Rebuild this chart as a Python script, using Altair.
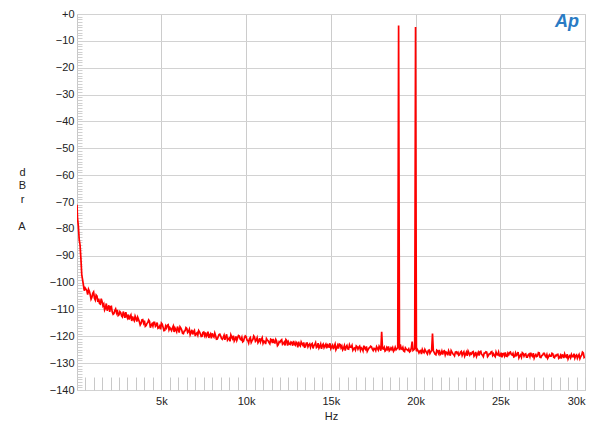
import altair as alt
import pandas as pd

# ---- data ----
start_freqs = [20, 50, 100, 150, 200, 250, 300, 350, 400, 450, 500]
start_levels = [-71, -76, -79, -84, -86, -91, -97, -99, -101, -103, -102]

# levels every 100 Hz from 600 Hz to 30 kHz (rows of 1 kHz)
levels = [
    -103, -102.5, -104.5, -105.5, -103.5, -106.5, -105, -106, -108, -107,
    -108, -109.5, -110.5, -108.5, -109, -111, -111.5, -109.8, -110.2, -112,
    -111.2, -112.8, -111.8, -111, -113.2, -113.8, -112.1, -112.6, -114.2, -113.3,
    -112.9, -114.6, -115.2, -113.8, -114.2, -116, -114.9, -114.4, -115.8, -116.2,
    -114.8, -115.9, -117, -116.2, -115.1, -116.6, -117.8, -116.9, -115.7, -116.8,
    -117.9, -116.2, -116.9, -118.3, -117.4, -116.5, -117.7, -119, -117.9, -117.1,
    -118.2, -119.4, -117.6, -118.3, -119.9, -118.7, -117.9, -119.1, -120, -118.4,
    -118.6, -119.5, -120.6, -119.1, -118.9, -120.3, -119.8, -121, -119.4, -119.9,
    -121.1, -119.6, -120.2, -121.4, -120.7, -119.5, -120.9, -121.8, -120.1, -120.6,
    -119.9, -121.3, -122.1, -120.6, -120.2, -121.6, -120.9, -122.3, -121.2, -120.4,
    -121.5, -122.4, -120.7, -121.2, -122.6, -121.9, -120.9, -121.7, -122.8, -121.3,
    -121, -122.5, -121.8, -123.1, -122.2, -121.3, -122.7, -123.4, -121.6, -122.1,
    -123, -122.4, -121.7, -123.3, -122.6, -122, -123.6, -122.8, -122.3, -123.9,
    -122.5, -123.2, -124.1, -122.7, -123.5, -122.4, -123.9, -124.4, -122.9, -123.4,
    -124.2, -123, -122.8, -124, -124.6, -123.3, -123.7, -125, -123.4, -122.9,
    -124.3, -125, -123.5, -123.9, -124.7, -123.2, -124.1, -125.2, -124.4, -123.6,
    -124.8, -123.7, -124.3, -125.4, -124.5, -123.8, -125, -124.2, -123.9, -125.3,
    -124.6, -123.9, -125.1, -124.3, -118.3, -124.7, -125.5, -124.2, -123.8, -125,
    -124.9, -125.6, -124.1, -124.6, -4.3, -123, -124.8, -125.5, -124.3, -125,
    -124.7, -125.5, -122, -125, -4.8, -124.8, -126.2, -125.3, -124.9, -126.1,
    -125.5, -126.6, -125.1, -125.8, -119, -126, -126.9, -125.5, -125.1, -126.4,
    -126.8, -125.4, -125.9, -127.1, -126.2, -125.3, -126.5, -127.3, -125.8, -126,
    -126.9, -125.6, -126.3, -127.4, -125.9, -125.5, -127, -126.6, -125.7, -126.9,
    -127.5, -126, -125.8, -126.8, -127.6, -126.3, -125.9, -127.2, -126.6, -125.7,
    -126.5, -127.6, -126.8, -125.9, -127.3, -127.8, -126.4, -126, -127.5, -126.9,
    -125.9, -127, -127.7, -126.2, -126.8, -128, -126.9, -126.1, -127.4, -126.5,
    -127.8, -126.6, -126.1, -127.5, -128.1, -126.8, -127.3, -126.2, -127.9, -127,
    -126.4, -127.7, -128.2, -126.9, -127.4, -126.5, -128, -127.3, -126.7, -127.9,
    -128.3, -127, -126.6, -127.8, -128.4, -127.2, -126.8, -127.6, -128.1, -126.9,
    -127.4, -128.3, -127.1, -126.2, -127.6,
]
grid_freqs = list(range(600, 30001, 100))

# in-between bins, 650 Hz to 29.95 kHz
levels_mid = [
    -104.5, -103.2, -106.2, -104, -105.8, -104.6, -107.2, -107.8, -106, -108.6,
    -110.2, -107.8, -109.4, -110.9, -108.9, -111.8, -110.4, -111.2, -112.3, -110.8,
    -112.4, -110.8, -113.1, -112.5, -111.9, -112.7, -114.3, -113.6, -112.5, -114.5,
    -113.7, -115.8, -113.9, -115.1, -116.3, -115.2, -113.9, -116.8, -115.3, -114.8,
    -116.3, -114.9, -116.8, -117.4, -115.5, -117.9, -116.2, -115.9, -117.6, -117.3,
    -116.9, -118.4, -117.6, -116.4, -118.6, -117, -118.9, -118.1, -116.8, -118.6,
    -117.4, -118.6, -119.3, -117.8, -119, -119.6, -118.4, -120.1, -118.6, -119.7,
    -120.1, -118.3, -119.6, -120.8, -119.8, -118.8, -121.1, -120.2, -119.2, -120.8,
    -120.4, -121.3, -119.3, -120.9, -121.9, -120.3, -119.8, -121.2, -121.5, -119.7,
    -121, -120.4, -121.8, -119.9, -121.4, -122.5, -120.5, -121.6, -119.9, -121.9,
    -120.6, -121.8, -122.1, -120.5, -121.8, -122.9, -121.4, -122.3, -121.1, -122.5,
    -122.3, -121.2, -123.5, -122, -121.6, -123, -122.2, -121.2, -123.5, -122.8,
    -122.1, -123.5, -122.9, -122.2, -124.1, -123.2, -122.1, -123.3, -124, -122.6,
    -123.9, -122.8, -123, -124.5, -123.1, -124.2, -122.6, -123.8, -124.7, -122.9,
    -123.5, -124.5, -123.9, -122.6, -123.9, -124.8, -122.9, -124.3, -124.6, -123.1,
    -123.6, -124.4, -125.3, -123.4, -124.8, -124, -123.4, -124.6, -125.1, -123.9,
    -124.1, -125.2, -124.6, -123.5, -124.9, -125.6, -124.4, -123.7, -124.8, -124.5,
    -125.3, -124.5, -123.7, -125.4, -124.6, -124.1, -125.2, -124.8, -125.4, -124.3,
    -124.2, -125.1, -125, -124.3, -125.2, -124.6, -124.1, -125.7, -124.8, -125.3,
    -125.8, -124.4, -125.3, -124.6, -125.6, -125.4, -125.5, -126.6, -125.7, -124.9,
    -126.1, -125.3, -126.4, -125.2, -125.5, -126.7, -125.2, -126.3, -126.8, -125.5,
    -125.6, -126.9, -126.1, -125.4, -127.2, -125.9, -126.8, -125.9, -126.4, -127.1,
    -125.9, -127.1, -125.8, -126.6, -127.3, -126.2, -126.3, -125.9, -127.4, -125.8,
    -126.7, -127.2, -125.6, -127, -126.3, -125.8, -127.6, -126.5, -125.9, -127.1,
    -127.2, -125.9, -126.9, -127.3, -126.1, -126.5, -127.3, -127.4, -126.3, -126.1,
    -126.8, -126.4, -127.5, -127.1, -125.9, -127.3, -127.8, -126.4, -126.7, -127.8,
    -126.9, -127.6, -127.2, -126.3, -127.3, -127.5, -126.1, -127.8, -127.2, -126.4,
    -127.3, -126.8, -127.6, -127.4, -126.3, -127.8, -127.1, -126.8, -128.2, -127.1,
    -126.9, -128.1, -127.5, -126.7, -127.6, -128, -127.6, -126.5, -127.2, -128.2,
    -126.8, -127.5, -125.9, -127.9,
]
mid_freqs = list(range(650, 30000, 100))

y_ticks = [0, -10, -20, -30, -40, -50, -60, -70, -80, -90, -100, -110, -120, -130, -140]
x_ticks = [5000, 10000, 15000, 20000, 25000, 30000]
x_minor = list(range(500, 30001, 500))
y_minor = list(range(-140, 1, 1))

df = pd.DataFrame({
    "Hz": start_freqs + grid_freqs + mid_freqs,
    "dB": start_levels + levels + levels_mid,
}).sort_values("Hz")

FONT = "Liberation Sans"
xscale = alt.Scale(domain=[20, 30000], nice=False, zero=False)
yscale = alt.Scale(domain=[-140, 0], nice=False)

main = alt.Chart(df).mark_line(color="#ff0000", strokeWidth=1.7, clip=True).encode(
    x=alt.X("Hz:Q", scale=xscale, axis=alt.Axis(
        orient="bottom", values=x_ticks, grid=True, gridColor="#cccccc",
        tickSize=0, domain=False, labelPadding=5, labelFlush=True,
        labelExpr="datum.value/1000 + 'k'", labelFont=FONT, labelFontSize=11,
        labelColor="#222222", title="Hz", titleFont=FONT, titleFontSize=11,
        titleFontWeight="normal", titleColor="#222222", titlePadding=4)),
    y=alt.Y("dB:Q", scale=yscale, axis=alt.Axis(
        orient="left", values=y_ticks, grid=True, gridColor="#d2d2d2",
        tickSize=0, domain=False, labelPadding=3,
        labelExpr="datum.value == 0 ? '+0' : datum.label",
        labelFont=FONT, labelFontSize=11, labelColor="#222222",
        title=["d", "B", "r"], titleAngle=0, titleAlign="center",
        titleBaseline="middle", titleX=-55, titleY=158, titleLineHeight=13.7,
        titleFont=FONT, titleFontSize=11, titleFontWeight="normal",
        titleColor="#222222")),
)

minor = alt.Chart(df).mark_line(opacity=0).encode(
    x=alt.X("Hz:Q", scale=xscale, axis=alt.Axis(
        orient="bottom", values=x_minor, offset=-13, tickSize=13,
        tickColor="#c8c8c8", labels=False, domain=False, grid=False, title=None)),
    y=alt.Y("dB:Q", scale=yscale, axis=alt.Axis(
        orient="left", values=y_minor, offset=-5, tickSize=5,
        tickColor="#d0d0d0", labels=False, domain=False, grid=False, title=None)),
)

unit_a = alt.Chart(pd.DataFrame({"t": ["A"]})).mark_text(
    font=FONT, fontSize=11, color="#222222", align="center", baseline="middle",
).encode(text="t:N", x=alt.value(-55), y=alt.value(213))

logo = alt.Chart(pd.DataFrame({"t": ["Ap"]})).mark_text(
    font=FONT, fontSize=18, fontStyle="italic", fontWeight="bold",
    color="#2a7bc4", align="center", baseline="middle",
).encode(text="t:N", x=alt.value(490), y=alt.value(8))

chart = alt.layer(main, minor, unit_a, logo).resolve_axis(
    x="independent", y="independent"
).properties(
    width=508, height=376,
    autosize=alt.AutoSizeParams(type="none"),
    padding={"left": 69, "top": 6, "right": 7, "bottom": 34},
).configure_view(stroke="#c8c8c8", strokeWidth=1)

chart.save("out.html", embed_options={"renderer": "svg", "actions": False})
